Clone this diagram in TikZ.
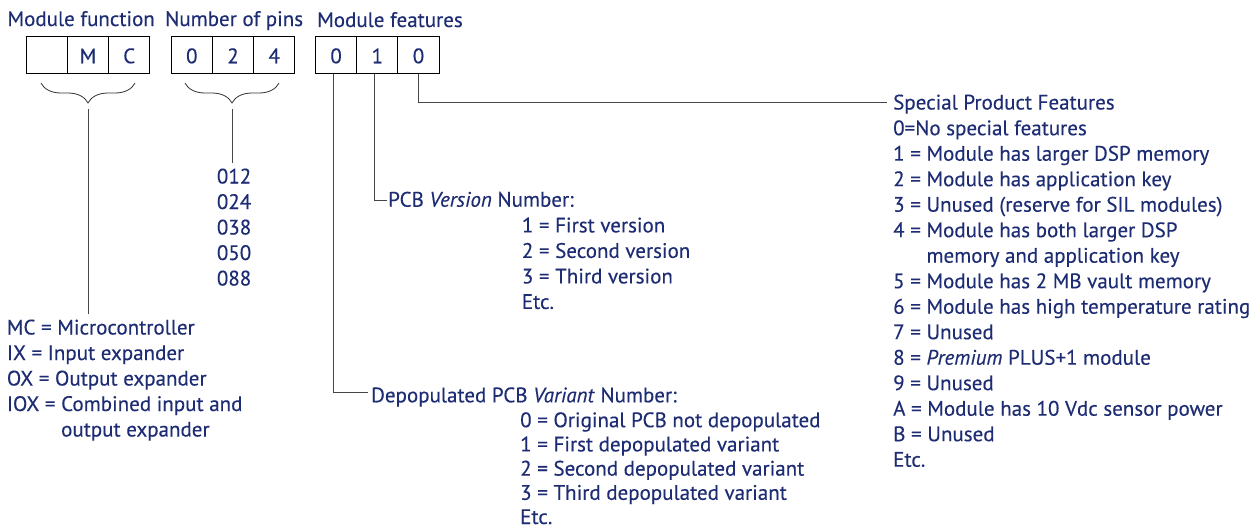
\documentclass[tikz,border=0pt]{standalone}
\usepackage{fontspec}
\setmainfont{PT Sans}[FakeBold=0.3]
\usetikzlibrary{decorations.pathreplacing}
\definecolor{navy}{RGB}{30,45,115}
\definecolor{linegray}{RGB}{70,70,70}
\newcommand\fl{\rule{0pt}{20pt}}
\begin{document}
\begin{tikzpicture}[x=1pt,y=-1pt,
  txt/.style={font=\fontsize{21}{25.5}\selectfont, text=navy, inner sep=0pt, align=left, anchor=north west},
  lbl/.style={font=\fontsize{21}{25.5}\selectfont, text=navy, inner sep=0pt, anchor=base west},
  cell/.style={draw=black, line width=1pt, minimum width=41.2pt, minimum height=36.7pt, inner sep=0pt, anchor=north west, text height=16.8pt, text depth=0pt, font=\fontsize{21}{25.5}\selectfont, text=navy},
  conn/.style={draw=linegray, line width=0.9pt},
  brc/.style={draw=black!80, line width=0.8pt, decorate, decoration={brace, amplitude=20pt, mirror}}]
\useasboundingbox (0,0) rectangle (1258,530);
% headers
\node[lbl] (h1) at (7.3,26) {Module function};
\node[lbl] (h2) at (165,26) {Number of pins};
\node[lbl] (h3) at (317,27) {Module features};
% cells
\node[cell] (a1) at (25.7,36) {};
\node[cell] (a2) at (66.9,36) {M};
\node[cell] (a3) at (108.1,36) {C};
\node[cell] (b1) at (170.7,36) {0};
\node[cell] (b2) at (211.9,36) {2};
\node[cell] (b3) at (253.1,36) {4};
\node[cell] (c1) at (315,36) {0};
\node[cell] (c2) at (356.2,36) {1};
\node[cell] (c3) at (397.4,36) {0};
% braces
\draw[brc] (41,83) -- (135,83);
\coordinate (t1) at (88,109);
\draw[brc] (185,83) -- (279,83);
\coordinate (t2) at (232,109);
% lists
\node[txt] (pins) at (216.7,163.3) {\fl 012\\024\\038\\050\\088};
\node[txt] (mc) at (6.7,314.3) {\fl MC = Microcontroller\\IX = Input expander\\OX = Output expander\\IOX = Combined input and\\\phantom{IOX = }output expander};
\node[lbl] (pcbv) at (388,206.7) {PCB \textit{Version} Number:};
\node[txt] (pcbitems) at (521.7,212.2) {\fl 1 = First version\\2 = Second version\\3 = Third version\\Etc.};
\node[lbl] (dep) at (371,402.3) {Depopulated PCB \textit{Variant} Number:};
\node[txt, font=\fontsize{21}{24.2}\selectfont] (depitems) at (520,407) {\fl 0 = Original PCB not depopulated\\1 = First depopulated variant\\2 = Second depopulated variant\\3 = Third depopulated variant\\Etc.};
\node[lbl] (spf) at (893,109.5) {Special Product Features};
\node[txt] (spl) at (893,115) {\fl 0=No special features\\
1 = Module has larger DSP memory\\
2 = Module has application key\\
3 = Unused (reserve for SIL modules)\\
4 = Module has both larger DSP\\
\phantom{4 = }memory and application key\\
5 = Module has 2 MB vault memory\\
6 = Module has high temperature rating\\
7 = Unused\\
8 = \textit{Premium} PLUS+1 module\\
9 = Unused\\
A = Module has 10 Vdc sensor power\\
B = Unused\\
Etc.};
% connectors
\draw[conn] (t1) -- (t1 |- mc.north);
\draw[conn] (t2) -- (t2 |- pins.north);
\draw[conn, shorten >=1pt] ([xshift=-3.2pt]c2.south) |- ([yshift=6.7pt]pcbv.base west);
\draw[conn, shorten >=3pt] ([xshift=-2.3pt]c1.south) |- ([yshift=9.6pt]dep.base west);
\draw[conn, shorten >=6pt] (c3.south) |- ([yshift=7.2pt]spf.base west);
\end{tikzpicture}
\end{document}
